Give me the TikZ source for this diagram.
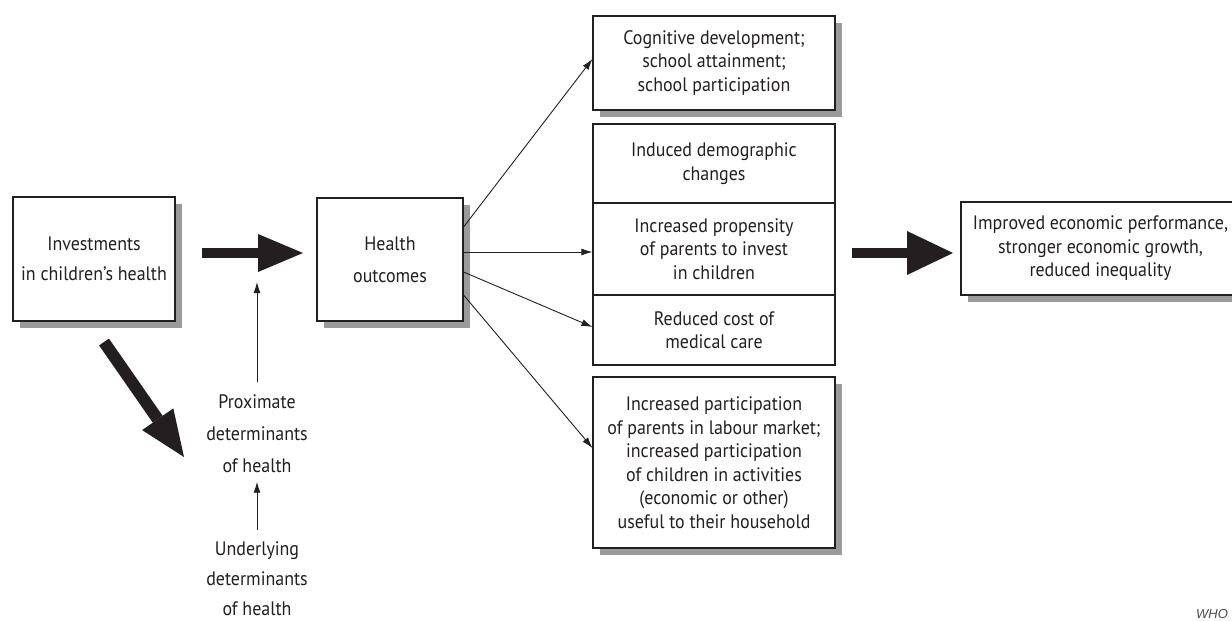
\documentclass[tikz,border=0pt]{standalone}
\usepackage{fontspec}
\setmainfont{PT Sans}[FakeStretch=0.92]
\newfontfamily\dgWhoFont{Liberation Sans}
\usetikzlibrary{arrows.meta,shadows,backgrounds}
\definecolor{shadowgray}{HTML}{9A9A9A}
\definecolor{inkgray}{HTML}{231F20}
\newcommand\dgBox{\fontsize{19.5}{23.5}\selectfont}
\newcommand\dgInv{\fontsize{19.5}{30}\selectfont}
\newcommand\dgLab{\fontsize{19.5}{32}\selectfont}
\newcommand\dgUnd{\fontsize{19.5}{30}\selectfont}
\begin{document}
\begin{tikzpicture}[x=1pt,y=-1pt,
  box/.style={draw=inkgray, line width=1.1pt, fill=white, align=center, inner sep=0pt, font=\dgBox, text=inkgray},
  shad/.style={drop shadow={shadow xshift=7pt, shadow yshift=-7pt, fill=shadowgray, opacity=1}},
  thinarrow/.style={draw=inkgray, line width=0.9pt, -{Latex[length=11pt,width=7pt]}},
  fatarrow/.style={draw=inkgray, line width=10.5pt, -{Triangle[length=45pt,width=38pt,line width=0pt]}},
  lab/.style={align=center, inner sep=0pt, text=inkgray}
]
\clip (0,0) rectangle (1232,621);
\fill[white] (0,0) rectangle (1232,621);

% boxes
\node[box,shad,minimum width=162pt,minimum height=124pt,font=\dgInv] (inv) at (94,259) {Investments\\in children’s health};
\node[box,shad,minimum width=146pt,minimum height=123pt,font=\dgLab] (health) at (390,259.5) {Health\\outcomes};
\node[box,shad,minimum width=242pt,minimum height=94pt] (cog) at (714,63) {Cognitive development;\\school attainment;\\school participation};
\node[box,minimum width=242pt,minimum height=79pt] (demo) at (714,163.5) {Induced demographic\\changes};
\node[box,minimum width=242pt,minimum height=92pt] (prop) at (714,249) {Increased propensity\\of parents to invest\\in children};
\node[box,minimum width=242pt,minimum height=70pt] (cost) at (714,330) {Reduced cost of\\medical care};
\node[box,shad,minimum width=242pt,minimum height=171pt] (lab) at (714,462.5) {Increased participation\\of parents in labour market;\\increased participation\\of children in activities\\(economic or other)\\useful to their household};
\node[box,shad,minimum width=279pt,minimum height=93pt] (econ) at (1100.5,248.5) {Improved economic performance,\\stronger economic growth,\\reduced inequality};

\begin{scope}[on background layer]
  \fill[shadowgray] ([shift={(7pt,-7pt)}]demo.north west) rectangle ([shift={(7pt,-7pt)}]cost.south east);
\end{scope}

% labels
\node[lab,font=\dgLab] (prox) at (257,433.5) {Proximate\\determinants\\of health};
\node[lab,font=\dgUnd] (und) at (257,579) {Underlying\\determinants\\of health};
\node[anchor=base west, inner sep=0pt, font=\dgWhoFont\itshape\fontsize{13}{15}\selectfont, text=black!70] (who) at (1196,618) {WHO};

% fat arrows
\coordinate (f1s) at (202,253);
\coordinate (f1e) at (303,253);
\coordinate (f1m) at (257,282);
\coordinate (f2s) at (852,253);
\coordinate (f2e) at (953,253);
\coordinate (f3s) at (104,342);
\coordinate (f3e) at (184,457);
\draw[fatarrow] (f1s) -- (f1e);
\draw[fatarrow,-{Triangle[length=46pt,width=44pt,line width=0pt]}] (f2s) -- (f2e);
\draw[fatarrow,line width=12pt,-{Triangle[length=46pt,width=38pt,line width=0pt]}] (f3s) -- (f3e);

% thin arrows
\draw[thinarrow] ([yshift=12pt]prox.north) -- (f1m);
\draw[thinarrow] ([yshift=12pt]und.north) -- ([yshift=-9pt]prox.south);
\draw[thinarrow] (health.east |- 0,227) -- (cog.west |- 0,59);
\draw[thinarrow] (health.east |- 0,252) -- (prop.west |- 0,252);
\draw[thinarrow] (health.east |- 0,272) -- (cost.west |- 0,327);
\draw[thinarrow] (health.east |- 0,295) -- (lab.west |- 0,448);
\end{tikzpicture}
\end{document}
